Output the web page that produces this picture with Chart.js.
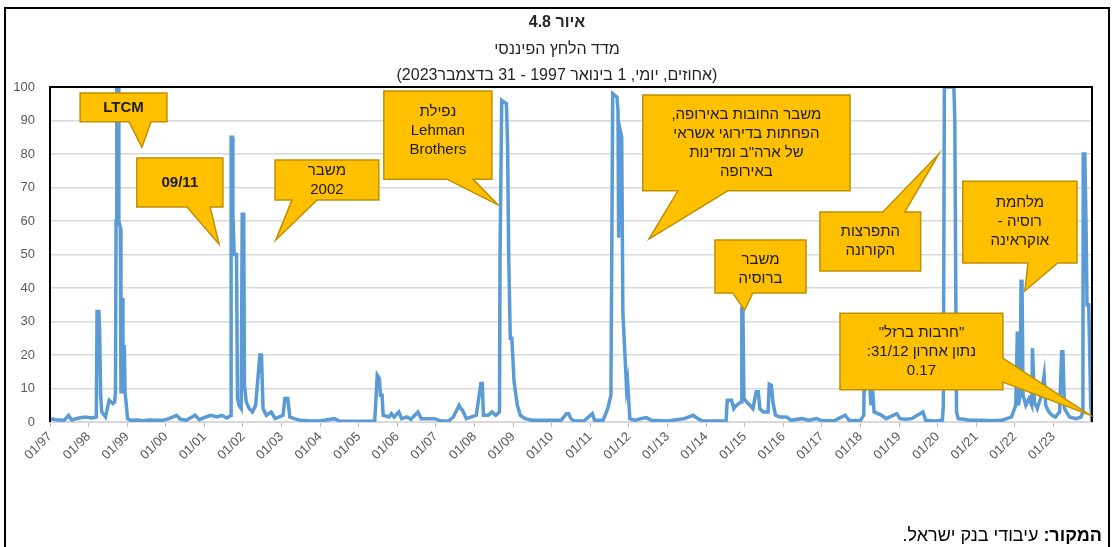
<!DOCTYPE html>
<html lang="he">
<head>
<meta charset="utf-8">
<script src="https://cdn.jsdelivr.net/npm/chart.js@4.4.1/dist/chart.umd.min.js"></script>
<style>
  body { margin: 0; background: #fff; }
  #wrap { position: relative; width: 1114px; height: 547px; overflow: hidden; font-family: "Liberation Sans", Arial, sans-serif; color: #262626; }
  #frame { position: absolute; left: 4px; top: 7px; width: 1102px; height: 600px; border: 2px solid #000; }
  #chart { position: absolute; left: 0; top: 0; }
  .t { position: absolute; left: 0; width: 1114px; text-align: center; font-size: 16px; line-height: 20px; }
  #src { position: absolute; right: 12px; top: 524px; font-size: 18px; line-height: 22px; color: #000; }
</style>
</head>
<body>
<div id="wrap">
  <div id="frame"></div>
  <canvas id="chart" width="1114" height="547"></canvas>
  <div class="t" dir="rtl" style="top:12px;font-weight:bold;">איור 4.8</div>
  <div class="t" dir="rtl" style="top:39px;">מדד הלחץ הפיננסי</div>
  <div class="t" dir="rtl" style="top:65px;">(אחוזים, יומי, 1 בינואר 1997 - 31 בדצמבר2023)</div>
  <div id="src" dir="rtl"><b>המקור:</b> עיבודי בנק ישראל.</div>
</div>
<script>
"use strict";

// financial stress index (percent)
const dates = [
  "1997-01-01", "1997-03-01", "1997-05-15", "1997-06-25", "1997-07-25", "1997-10-01", "1997-12-01",
  "1998-02-01", "1998-03-15", "1998-03-22", "1998-04-08", "1998-04-15", "1998-04-25", "1998-05-05", "1998-06-10",
  "1998-07-15", "1998-08-20", "1998-09-05", "1998-09-12", "1998-09-18", "1998-09-25", "1998-10-10", "1998-10-14",
  "1998-10-28", "1998-11-03", "1998-11-10", "1998-11-15", "1998-11-22", "1998-12-05", "1998-12-12",
  "1999-01-05", "1999-02-01", "1999-04-01", "1999-06-01", "1999-08-01", "1999-10-01", "1999-12-01",
  "2000-02-01", "2000-04-12", "2000-05-20", "2000-07-15", "2000-10-05", "2000-11-15",
  "2001-01-15", "2001-03-01", "2001-05-01", "2001-06-15", "2001-08-01", "2001-09-10", "2001-09-11", "2001-09-24",
  "2001-09-28", "2001-10-10", "2001-11-01", "2001-11-10", "2001-11-25", "2001-12-15", "2001-12-25",
  "2002-01-08", "2002-01-15", "2002-02-01", "2002-03-01", "2002-04-01", "2002-05-01", "2002-06-10", "2002-06-25",
  "2002-07-10", "2002-08-10", "2002-09-25", "2002-11-01",
  "2003-01-15", "2003-02-01", "2003-03-01", "2003-03-20", "2003-05-01", "2003-07-01", "2003-10-01",
  "2004-01-01", "2004-05-15", "2004-07-01",
  "2005-01-01", "2005-06-01", "2005-06-25", "2005-07-15", "2005-07-25", "2005-08-10", "2005-08-20", "2005-10-15",
  "2005-11-06", "2005-12-01",
  "2006-01-15", "2006-02-10", "2006-04-01", "2006-05-10", "2006-07-15", "2006-08-15", "2006-10-25", "2006-12-20",
  "2007-02-15", "2007-05-01", "2007-06-15", "2007-08-08", "2007-08-25", "2007-09-10", "2007-10-15",
  "2008-01-18", "2008-03-01", "2008-03-15", "2008-03-25", "2008-05-10", "2008-06-15", "2008-07-20", "2008-08-25",
  "2008-08-30", "2008-09-15", "2008-10-30", "2008-11-10", "2008-11-20", "2008-12-05", "2008-12-20",
  "2009-01-10", "2009-02-10", "2009-03-10", "2009-04-25", "2009-07-01", "2009-12-01",
  "2010-04-01", "2010-05-19", "2010-06-10", "2010-07-01", "2010-08-01", "2010-11-01",
  "2011-01-20", "2011-02-10", "2011-05-01", "2011-06-15", "2011-07-15", "2011-07-25", "2011-08-01", "2011-09-10",
  "2011-09-20", "2011-09-26", "2011-10-05", "2011-10-25", "2011-11-05", "2011-12-10", "2011-12-20",
  "2012-01-10", "2012-03-01", "2012-04-20", "2012-06-15", "2012-08-01",
  "2013-01-01", "2013-06-10", "2013-09-01", "2013-10-15", "2013-12-01",
  "2014-07-10", "2014-07-20", "2014-08-30", "2014-09-20", "2014-10-15", "2014-11-28", "2014-12-05", "2014-12-15",
  "2014-12-25",
  "2015-01-20", "2015-02-20", "2015-03-20", "2015-04-20", "2015-05-10", "2015-05-25", "2015-06-25", "2015-08-10",
  "2015-08-22", "2015-09-10", "2015-09-25", "2015-10-20", "2015-12-01",
  "2016-02-01", "2016-03-15", "2016-06-25", "2016-09-01", "2016-11-10",
  "2017-01-01", "2017-05-01", "2017-08-10", "2017-09-15", "2017-12-31",
  "2018-02-01", "2018-02-08", "2018-02-25", "2018-03-20", "2018-04-10", "2018-04-25", "2018-05-10", "2018-06-15",
  "2018-07-20", "2018-09-01", "2018-12-10",
  "2019-01-10", "2019-03-01", "2019-05-01", "2019-08-15", "2019-09-10", "2019-12-01",
  "2020-02-15", "2020-02-24", "2020-03-05", "2020-06-03", "2020-06-12", "2020-06-28", "2020-07-15", "2020-09-01",
  "2020-11-01",
  "2021-03-01", "2021-06-01", "2021-09-01", "2021-12-01",
  "2022-01-10", "2022-01-25", "2022-02-05", "2022-02-20", "2022-03-01", "2022-03-10", "2022-03-20", "2022-04-15",
  "2022-05-15", "2022-06-10", "2022-06-17", "2022-07-05", "2022-08-01", "2022-09-01", "2022-10-05", "2022-10-20",
  "2022-11-20", "2022-12-20",
  "2023-01-20", "2023-03-01", "2023-03-20", "2023-04-01", "2023-04-15", "2023-06-01", "2023-08-01", "2023-09-20",
  "2023-10-07", "2023-10-10", "2023-10-25", "2023-11-05", "2023-11-15", "2023-12-01", "2023-12-20", "2023-12-31"
];

const stress = [
  1.0, 0.7, 0.5, 2.0, 0.6, 1.2, 1.5,
  1.2, 1.5, 33, 33, 28, 8, 3, 1.5,
  6.5, 5.5, 6, 9, 60, 100, 100, 60,
  58, 9, 9, 37, 9, 23, 9,
  1, 0.5, 0.6, 0.4, 0.6, 0.5, 0.5,
  1.0, 2.0, 0.8, 0.5, 2.0, 0.7,
  1.5, 2.0, 1.5, 2.0, 1.2, 2, 85, 85,
  62, 50, 50, 7, 5, 4, 62,
  62, 11, 6, 4, 3, 5, 20, 20,
  4, 2, 3, 1,
  2, 7, 7, 1.5, 1, 0.5, 0.3,
  0.3, 1.0, 0.3,
  0.2, 0.3, 14, 13, 8, 8, 2, 1.5,
  2.5, 1.5,
  3, 1, 1.5, 0.8, 3, 1, 1, 1,
  0.3, 0.3, 1.5, 5, 4, 3.5, 1,
  2, 11.5, 11.5, 2, 2, 3, 2, 3,
  50, 96, 95, 82, 50, 25, 25,
  12, 5, 2, 1, 0.5, 0.5,
  0.5, 2.5, 2.5, 1, 0.3, 0.3,
  2.5, 0.5, 0.5, 4, 8, 60, 98, 97,
  93, 55, 88, 85, 33, 10, 12,
  1, 0.5, 1, 1.3, 0.5,
  0.3, 1, 2, 1, 0.3,
  0.3, 6.5, 6.5, 4, 5, 6, 34, 34,
  7,
  6, 5, 4, 9, 9, 4, 3, 3,
  11.3, 11, 6, 2, 1.5,
  1.5, 0.5, 1, 0.5, 1,
  0.4, 0.4, 2, 0.5, 0.4,
  2, 18, 12, 16, 5, 10, 3, 2.5,
  2, 1, 2.5,
  1, 0.8, 1, 3, 0.5, 0.3,
  0.5, 5, 100, 100, 90, 3, 1, 0.8,
  0.5,
  0.5, 0.4, 0.5, 1.5,
  5, 27, 5, 8, 42, 42, 8, 5,
  7, 5, 22, 6, 4, 7, 14, 5,
  3, 2,
  1.5, 3, 21, 21, 4, 1.5, 1, 1.5,
  3, 80, 80, 60, 35, 35, 5, 0.17
];

const tickLabels = ["01/97", "01/98", "01/99", "01/00", "01/01", "01/02", "01/03", "01/04", "01/05",
  "01/06", "01/07", "01/08", "01/09", "01/10", "01/11", "01/12", "01/13", "01/14", "01/15",
  "01/16", "01/17", "01/18", "01/19", "01/20", "01/21", "01/22", "01/23"];
const yTicks = [0, 10, 20, 30, 40, 50, 60, 70, 80, 90, 100];

// callouts: box [x from, x to, y top, y bottom] in years/percent, tail on one side
const callouts = [
  { lines: ["LTCM"], bold: true, box: [1997.78, 2000.03, 98.2, 89.6], side: "bottom", base: [1999.05, 1999.62], tip: [1999.38, 82] },
  { lines: ["09/11"], bold: true, box: [1999.25, 2001.48, 78.8, 64.2], side: "bottom", base: [2000.55, 2001.15], tip: [2001.38, 53.1] },
  { lines: ["משבר", "2002"], box: [2002.83, 2005.52, 78.2, 66.3], side: "bottom", base: [2003.27, 2003.92], tip: [2002.85, 54.3] },
  { lines: ["נפילת", "Lehman", "Brothers"], box: [2005.65, 2008.45, 98.8, 72.5], side: "bottom", base: [2007.28, 2007.96], tip: [2008.61, 64.8], dy: -4 },
  { lines: ["משבר החובות באירופה,", "הפחתות בדירוגי אשראי", "של ארה\"ב ומדינות", "באירופה"], box: [2012.36, 2017.73, 97.6, 69.0], side: "bottom", base: [2013.27, 2014.56], tip: [2012.52, 54.6] },
  { lines: ["משבר", "ברוסיה"], box: [2014.23, 2016.59, 54.3, 38.5], side: "bottom", base: [2014.69, 2015.21], tip: [2015.0, 33.4], dy: 3 },
  { lines: ["התפרצות", "הקורונה"], box: [2016.95, 2019.56, 62.7, 45.1], side: "top", base: [2018.58, 2019.15], tip: [2020.03, 80] },
  { lines: ["מלחמת", "רוסיה -", "אוקראינה"], box: [2020.65, 2023.61, 71.9, 47.5], side: "bottom", base: [2022.34, 2023.11], tip: [2022.26, 39.1] },
  { lines: ["\"חרבות ברזל\"", "נתון אחרון 31/12:", "0.17"], box: [2017.47, 2021.69, 32.5, 9.6], side: "right", base: [19.1, 11.9], tip: [2023.94, 2.1] }
];

function toYear(s) {
  const [y, m, d] = s.split("-").map(Number);
  const start = Date.UTC(y, 0, 1);
  const end = Date.UTC(y + 1, 0, 1);
  return y + (Date.UTC(y, m - 1, d) - start) / (end - start);
}

const points = dates.map((d, i) => ({ x: toYear(d), y: stress[i] }));

const frame = {
  id: "frame",
  afterDatasetsDraw(chart) {
    const { ctx, chartArea: a } = chart;
    ctx.save();
    ctx.strokeStyle = "#000";
    ctx.lineWidth = 2;
    ctx.beginPath();
    ctx.moveTo(a.left, a.bottom);
    ctx.lineTo(a.left, a.top);
    ctx.lineTo(a.right, a.top);
    ctx.lineTo(a.right, a.bottom);
    ctx.stroke();
    ctx.restore();
  }
};

const calloutPlugin = {
  id: "callouts",
  afterDatasetsDraw(chart) {
    const ctx = chart.ctx;
    const xs = chart.scales.x;
    const ys = chart.scales.y;
    ctx.save();
    callouts.forEach((c) => {
      const L = xs.getPixelForValue(c.box[0]);
      const R = xs.getPixelForValue(c.box[1]);
      const T = ys.getPixelForValue(c.box[2]);
      const B = ys.getPixelForValue(c.box[3]);
      const tx = xs.getPixelForValue(c.tip[0]);
      const ty = ys.getPixelForValue(c.tip[1]);
      ctx.beginPath();
      ctx.moveTo(L, T);
      if (c.side === "top") {
        ctx.lineTo(xs.getPixelForValue(c.base[0]), T);
        ctx.lineTo(tx, ty);
        ctx.lineTo(xs.getPixelForValue(c.base[1]), T);
      }
      ctx.lineTo(R, T);
      if (c.side === "right") {
        ctx.lineTo(R, ys.getPixelForValue(c.base[0]));
        ctx.lineTo(tx, ty);
        ctx.lineTo(R, ys.getPixelForValue(c.base[1]));
      }
      ctx.lineTo(R, B);
      if (c.side === "bottom") {
        ctx.lineTo(xs.getPixelForValue(c.base[1]), B);
        ctx.lineTo(tx, ty);
        ctx.lineTo(xs.getPixelForValue(c.base[0]), B);
      }
      ctx.lineTo(L, B);
      ctx.closePath();
      ctx.fillStyle = "#FFC000";
      ctx.fill();
      ctx.strokeStyle = "#BF9000";
      ctx.lineWidth = 1.5;
      ctx.stroke();

      ctx.fillStyle = "#1a1a1a";
      ctx.font = (c.bold ? "bold " : "") + "15px 'Liberation Sans', Arial, sans-serif";
      ctx.textAlign = "center";
      ctx.textBaseline = "middle";
      ctx.direction = "rtl";
      const lh = 19;
      const cy = (T + B) / 2 + (c.dy || 0) - (c.lines.length - 1) * lh / 2;
      c.lines.forEach((line, i) => ctx.fillText(line, (L + R) / 2, cy + i * lh));
    });
    ctx.restore();
  }
};

new Chart(document.getElementById("chart"), {
  type: "line",
  data: {
    datasets: [{
      data: points,
      borderColor: "#5B9BD5",
      borderWidth: 3.5,
      pointRadius: 0,
      tension: 0,
      fill: false
    }]
  },
  options: {
    responsive: false,
    animation: false,
    devicePixelRatio: 1,
    layout: { padding: { left: 10, top: 87, right: 22, bottom: 65 } },
    plugins: { legend: { display: false }, tooltip: { enabled: false } },
    scales: {
      x: {
        type: "linear",
        min: 1997,
        max: 2024,
        afterBuildTicks: (scale) => { scale.ticks = tickLabels.map((l, i) => ({ value: 1997 + i })); },
        afterFit: (scale) => { scale.height = 60; },
        ticks: {
          callback: (v, i) => tickLabels[i],
          autoSkip: false,
          maxRotation: 45,
          minRotation: 45,
          padding: 2,
          color: "#595959",
          font: { family: "'Liberation Sans', Arial, sans-serif", size: 13 }
        },
        grid: { drawOnChartArea: false, drawTicks: true, tickLength: 5, color: "#BFBFBF" },
        border: { color: "#D9D9D9", width: 2 }
      },
      y: {
        min: 0,
        max: 100,
        afterBuildTicks: (scale) => { scale.ticks = yTicks.map((v) => ({ value: v })); },
        afterFit: (scale) => { scale.width = 40; },
        ticks: {
          padding: 15,
          color: "#595959",
          font: { family: "'Liberation Sans', Arial, sans-serif", size: 13 }
        },
        grid: { color: "#D9D9D9", lineWidth: 1.5, drawTicks: false },
        border: { display: false }
      }
    }
  },
  plugins: [frame, calloutPlugin]
});
</script>
</body>
</html>
